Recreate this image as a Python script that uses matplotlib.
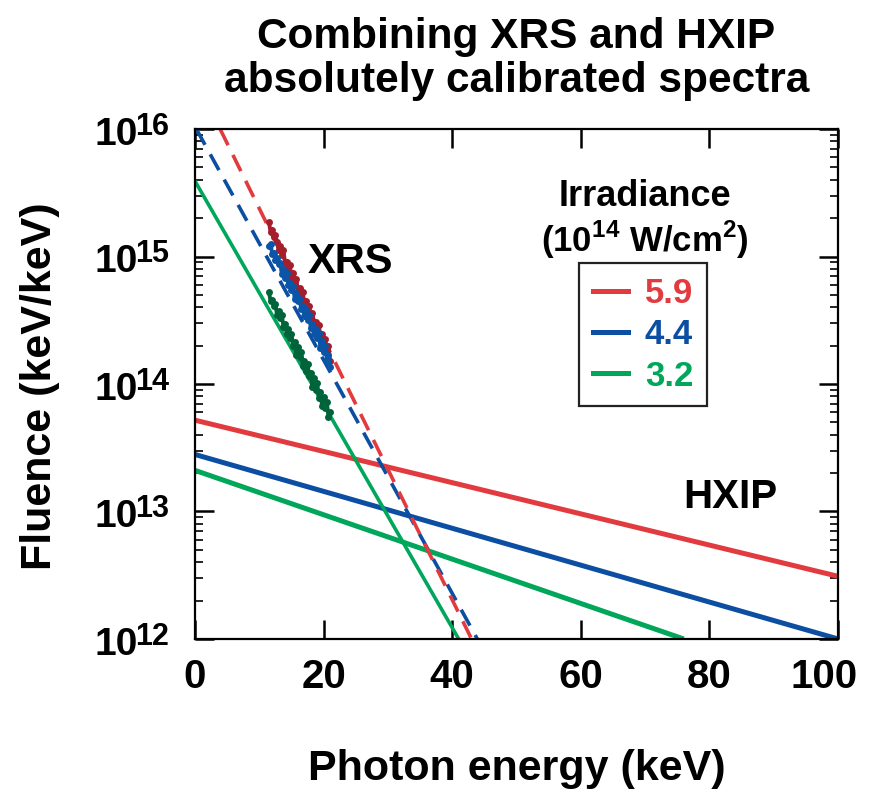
import matplotlib
matplotlib.use('Agg')
import matplotlib.pyplot as plt
import matplotlib.transforms as mtransforms
from matplotlib.lines import Line2D
import numpy as np

plt.rcParams['font.family'] = 'Liberation Sans'
plt.rcParams['font.weight'] = 'bold'
plt.rcParams['mathtext.fontset'] = 'custom'
plt.rcParams['mathtext.rm'] = 'Liberation Sans:bold'
plt.rcParams['mathtext.bf'] = 'Liberation Sans:bold'

# colours
red = '#E23B3F'
blue = '#0B4EA2'
green = '#00A65A'
red_dark = '#A51E2C'
blue_dark = '#0A55A8'
green_dark = '#00643A'

# irradiance labels (10^14 W/cm^2)
irradiance = ['5.9', '4.4', '3.2']

# HXIP fitted spectra: end points (keV, keV/keV)
hxip_E = [[0, 100], [0, 100], [0, 76]]
hxip_F = [[5.2e13, 3.1e12], [2.8e13, 1.0e12], [2.1e13, 1.0e12]]

# XRS fitted spectra extrapolated: end points
xrs_fit_E = [[3.9, 43.0], [0.2, 43.9], [0, 41.0]]
xrs_fit_F = [[1e16, 1e12], [1e16, 1e12], [3.9e15, 1e12]]

# XRS measured spectra (log10 fluence)
xrs_E = [11.5, 11.75, 12.0, 12.25, 12.5, 12.75, 13.0, 13.25, 13.5, 13.75,
         14.0, 14.25, 14.5, 14.75, 15.0, 15.25, 15.5, 15.75, 16.0, 16.25,
         16.5, 16.75, 17.0, 17.25, 17.5, 17.75, 18.0, 18.25, 18.5, 18.75,
         19.0, 19.25, 19.5, 19.75, 20.0, 20.25, 20.5, 20.75, 21.0]
xrs_red_log = [15.27, 15.19, 15.21, 15.15, 15.17, 15.11, 15.05, 15.08, 15.01, 15.05,
               14.95, 14.96, 14.91, 14.93, 14.83, 14.87, 14.81, 14.82, 14.73, 14.75,
               14.69, 14.72, 14.63, 14.65, 14.56, 14.61, 14.54, 14.56, 14.46, 14.49,
               14.40, 14.46, 14.37, 14.39, 14.28, 14.35, 14.25, 14.30, 14.18]
xrs_blue_log = [15.08, 15.10, 15.02, 15.03, 14.97, 14.99, 14.94, 14.95, 14.86, 14.90,
                14.83, 14.87, 14.78, 14.79, 14.74, 14.77, 14.67, 14.71, 14.65, 14.67,
                14.59, 14.61, 14.53, 14.58, 14.50, 14.54, 14.44, 14.47, 14.39, 14.43,
                14.36, 14.40, 14.28, 14.34, 14.25, 14.30, 14.19, 14.23, 14.13]
xrs_green_log = [14.72, 14.65, 14.66, 14.61, 14.63, 14.54, 14.57, 14.52, 14.54, 14.45,
                 14.47, 14.39, 14.43, 14.36, 14.39, 14.30, 14.33, 14.23, 14.29, 14.21,
                 14.25, 14.14, 14.18, 14.10, 14.16, 14.06, 14.09, 13.98, 14.05, 13.95,
                 14.01, 13.89, 13.94, 13.83, 13.90, 13.81, 13.86, 13.74, 13.78]

y_exps = [12, 13, 14, 15, 16]

fig = plt.figure(figsize=(8.73, 7.91), dpi=100)
ax = fig.add_axes([0.2234, 0.1922, 0.7366, 0.6447])

line_colors = [red, blue, green]
dot_colors = [red_dark, blue_dark, green_dark]
xrs_logs = [xrs_red_log, xrs_blue_log, xrs_green_log]

# HXIP lines
for i in range(3):
    ax.plot(hxip_E[i], hxip_F[i], color=line_colors[i], lw=3.6, solid_capstyle='butt')

# XRS fits (dashed red and blue, solid green)
ax.plot(xrs_fit_E[1], xrs_fit_F[1], color=blue, lw=2.6, ls=(0, (5, 3)))
ax.plot(xrs_fit_E[0], xrs_fit_F[0], color=red, lw=2.6, ls=(0, (5, 3)))
ax.plot(xrs_fit_E[2], xrs_fit_F[2], color=green, lw=2.6)

# XRS data
for i in range(3):
    ax.plot(xrs_E, 10 ** np.array(xrs_logs[i]), color=dot_colors[i], lw=2.8,
            marker='o', ms=5, mew=0)

ax.set_yscale('log')
ax.set_xlim(0, 100)
ax.set_ylim(1e12, 1e16)
ax.set_xticks([0, 20, 40, 60, 80, 100])
ax.set_yticks([10.0 ** k for k in y_exps])
ax.set_yticklabels([])
ax.tick_params(which='major', direction='in', length=14, width=1.8, top=True, right=True,
               labelsize=29, pad=14)
ax.tick_params(which='minor', direction='in', length=6, width=1.2, right=True)
ax.tick_params(axis='x', which='minor', bottom=False, top=False)
for s in ax.spines.values():
    s.set_linewidth(1.6)

# last x label sits a little to the left, as in the original
last = ax.get_xticklabels()[-1]
last.set_transform(last.get_transform() + mtransforms.ScaledTranslation(-0.14, 0, fig.dpi_scale_trans))

# y tick labels as 10 + raised exponent
for k in y_exps:
    ax.annotate('10', xy=(0, 10.0 ** k), xycoords=('axes fraction', 'data'),
                xytext=(-41.0, -11.5), textcoords='offset points',
                ha='right', va='baseline', fontsize=28, annotation_clip=False)
    ax.annotate(str(k), xy=(0, 10.0 ** k), xycoords=('axes fraction', 'data'),
                xytext=(-43.0, -4.3), textcoords='offset points',
                ha='left', va='baseline', fontsize=22, annotation_clip=False)

ax.set_xlabel('Photon energy (keV)', fontsize=31, fontweight='bold')
ax.set_ylabel('Fluence (keV/keV)', fontsize=31, fontweight='bold')
ax.xaxis.set_label_coords(0.5, -0.215)
ax.yaxis.set_label_coords(-0.21, 0.495)

ax.text(24.2, 10 ** 14.96, 'XRS', fontsize=30, fontweight='bold', ha='center', va='center')
ax.text(83.2, 10 ** 13.11, 'HXIP', fontsize=29, fontweight='bold', ha='center', va='center')

fig.text(516.5 / 873, 1 - 37 / 791, 'Combining XRS and HXIP', fontsize=30.5, fontweight='bold',
         ha='center', va='center')
fig.text(516.5 / 873, 1 - 81 / 791, 'absolutely calibrated spectra', fontsize=30.5, fontweight='bold',
         ha='center', va='center')

# legend title
fig.text(645 / 873, 1 - 197 / 791, 'Irradiance', fontsize=26, fontweight='bold',
         ha='center', va='center')
fig.text(645 / 873, 1 - 240 / 791, r'(10$^{14}$ W/cm$^{2}$)', fontsize=25, fontweight='bold',
         ha='center', va='center')

handles = [Line2D([], [], color=c, lw=3.6) for c in line_colors]
leg = ax.legend(handles, irradiance, loc='upper left', bbox_to_anchor=(579 / 873, 1 - 263 / 791),
                bbox_transform=fig.transFigure, borderaxespad=0, frameon=True, fancybox=False,
                handlelength=1.0, handletextpad=0.5, labelspacing=0.24,
                borderpad=0.4, prop={'size': 25, 'weight': 'bold'}, labelcolor=line_colors)
leg.get_frame().set_edgecolor('#222222')
leg.get_frame().set_linewidth(1.6)
leg.get_frame().set_alpha(1)

fig.savefig('out.png', dpi=100)
